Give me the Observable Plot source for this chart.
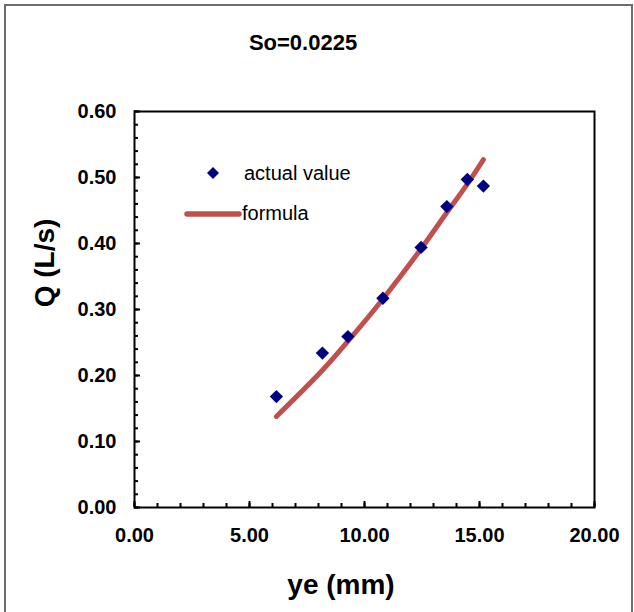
<!DOCTYPE html>
<html>
<head>
<meta charset="utf-8">
<script src="https://cdn.jsdelivr.net/npm/d3@7"></script>
<script src="https://cdn.jsdelivr.net/npm/@observablehq/plot@0.6"></script>
<style>
  html, body { margin: 0; padding: 0; background: #fff; color: #000; }
  #wrap { position: relative; width: 634px; height: 612px; overflow: hidden;
          font-family: "Liberation Sans", Arial, sans-serif; }
  #border { position: absolute; left: 4px; top: 4px; width: 629px; height: 640px;
            border: 2px solid #6d6d6d; box-sizing: border-box; pointer-events: none; }
  #chart { position: absolute; left: 0; top: 0; }
  .title { position: absolute; left: 303px; top: 43px; transform: translate(-50%, -50%);
           font-size: 22px; font-weight: bold; white-space: nowrap; }
  .ytitle { position: absolute; left: 45px; top: 263px; transform: translate(-50%, -50%) rotate(-90deg);
            font-size: 28px; font-weight: bold; white-space: nowrap; }
  .xtitle { position: absolute; left: 341px; top: 585px; transform: translate(-50%, -50%);
            font-size: 28px; font-weight: bold; white-space: nowrap; }
  #legend { position: absolute; left: 0; top: 0; pointer-events: none; }
</style>
</head>
<body>
<div id="wrap">
  <div id="chart"></div>
  <div class="title">So=0.0225</div>
  <div class="ytitle">Q (L/s)</div>
  <div class="xtitle">ye (mm)</div>
  <svg id="legend" width="634" height="612"></svg>
  <div id="border"></div>
</div>
<script>
// ---- data ----
const ye        = [6.17, 8.17, 9.28, 10.80, 12.46, 13.58, 14.47, 15.17];
const qActual   = [0.168, 0.234, 0.259, 0.317, 0.394, 0.456, 0.497, 0.487];
const qFormula  = [0.138, 0.208, 0.252, 0.316, 0.392, 0.447, 0.490, 0.527];
const seriesNames = ["actual value", "formula"];
const xMajorTicks = [0, 5, 10, 15, 20];
const xMinorTicks = [0, 1, 2, 3, 4, 5, 6, 7, 8, 9, 10, 11, 12, 13, 14, 15, 16, 17, 18, 19, 20];
const yMajorTicks = [0, 0.1, 0.2, 0.3, 0.4, 0.5, 0.6];
const yMinorTicks = [0, 0.02, 0.04, 0.06, 0.08, 0.1, 0.12, 0.14, 0.16, 0.18, 0.2, 0.22, 0.24, 0.26, 0.28,
                     0.3, 0.32, 0.34, 0.36, 0.38, 0.4, 0.42, 0.44, 0.46, 0.48, 0.5, 0.52, 0.54, 0.56, 0.58, 0.6];

const actual  = ye.map((x, i) => ({ye: x, q: qActual[i]}));
const formula = ye.map((x, i) => ({ye: x, q: qFormula[i]}));

const navy = "#000080", red = "#C0504D";
const fmt = d3.format(".2f");
const labelStyle = {fontSize: 20, fontWeight: "bold", label: null};

const W = 634, H = 612, mL = 134, mR = 40, mT = 111, mB = 105;
const innerW = W - mL - mR, innerH = H - mT - mB;

const chart = Plot.plot({
  width: W, height: H,
  marginLeft: mL, marginRight: mR, marginTop: mT, marginBottom: mB,
  style: {fontFamily: "'Liberation Sans', Arial, sans-serif", background: "transparent", color: "#000"},
  x: {domain: [0, 20], label: null},
  y: {domain: [0, 0.6], label: null},
  marks: [
    // inward tick marks
    Plot.tickX(xMinorTicks, {x: d => d, insetTop: innerH - 4, stroke: "#000", strokeWidth: 2}),
    Plot.tickX(xMajorTicks, {x: d => d, insetTop: innerH - 6, stroke: "#000", strokeWidth: 2}),
    Plot.tickY(yMinorTicks, {y: d => d, insetRight: innerW - 4, stroke: "#000", strokeWidth: 2}),
    Plot.tickY(yMajorTicks, {y: d => d, insetRight: innerW - 6, stroke: "#000", strokeWidth: 2}),
    // tick labels
    Plot.axisX(xMajorTicks, {tickSize: 0, tickPadding: 20, tickFormat: fmt, ...labelStyle}),
    Plot.axisY(yMajorTicks, {tickSize: 0, tickPadding: 18, tickFormat: fmt, ...labelStyle}),
    Plot.line(formula, {x: "ye", y: "q", stroke: red, strokeWidth: 5, curve: "catmull-rom", strokeLinecap: "round"}),
    Plot.dot(actual, {x: "ye", y: "q", symbol: "diamond2", r: 6, fill: navy}),
    Plot.frame({stroke: "#000", strokeWidth: 2})
  ]
});
document.getElementById("chart").appendChild(chart);

// ---- legend (inside plot area, upper left) ----
const lg = d3.select("#legend");
const g1 = lg.append("g").attr("transform", "translate(213,173)");
g1.append("path").attr("d", d3.symbol(d3.symbolDiamond2, Math.PI * 5.4 * 5.4)()).attr("fill", navy);
lg.append("text").attr("x", 244).attr("y", 173).attr("dy", "0.35em")
  .attr("font-size", 20).attr("font-family", "'Liberation Sans', Arial, sans-serif").text(seriesNames[0]);
lg.append("line").attr("x1", 187).attr("x2", 239).attr("y1", 214).attr("y2", 214)
  .attr("stroke", red).attr("stroke-width", 5.5).attr("stroke-linecap", "round");
lg.append("text").attr("x", 242).attr("y", 213).attr("dy", "0.35em")
  .attr("font-size", 20).attr("font-family", "'Liberation Sans', Arial, sans-serif").text(seriesNames[1]);
</script>
</body>
</html>
